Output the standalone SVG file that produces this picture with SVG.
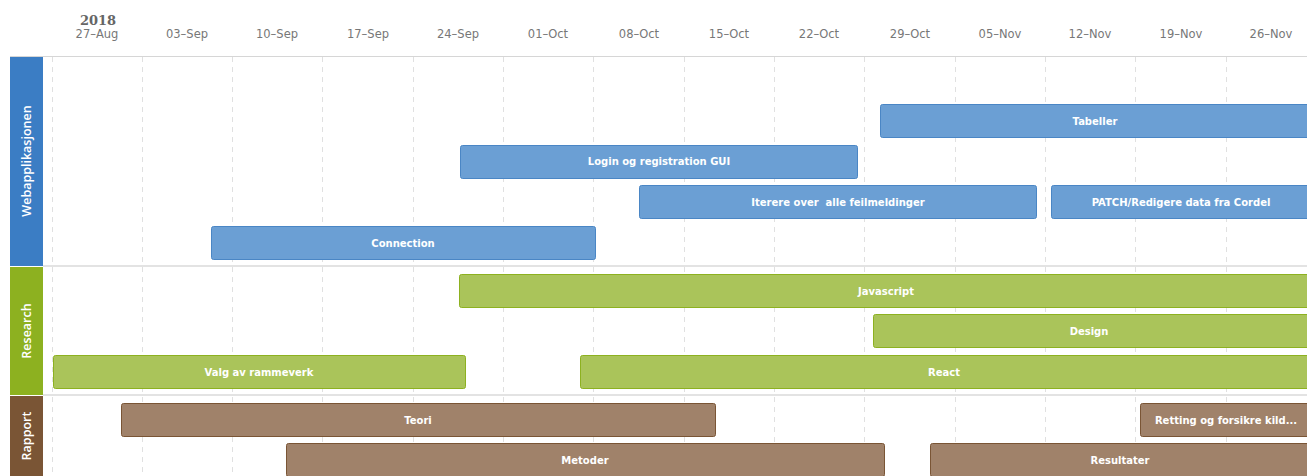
<svg xmlns="http://www.w3.org/2000/svg" width="1307" height="476" viewBox="0 0 1307 476">
<style>
.date{font-family:"DejaVu Sans",sans-serif;font-size:11.5px;fill:#777;text-anchor:middle}
.year{font-family:"DejaVu Serif",serif;font-weight:bold;font-size:13px;fill:#666;text-anchor:middle}
.grid{stroke:#e0e0e0;stroke-width:1;stroke-dasharray:5,5}
.sep{stroke:#e3e3e3;stroke-width:2}
.lane{font-family:"Open Sans",sans-serif;font-weight:600;font-size:12.5px;fill:#fff;text-anchor:middle}
.bar text{font-family:"DejaVu Sans",sans-serif;font-weight:bold;font-size:10px;fill:#fff;text-anchor:middle}
.b rect{fill:#6b9fd4;stroke:#4a86c5}
.g rect{fill:#aac45a;stroke:#8db120}
.r rect{fill:#a0826a;stroke:#7a5535}
</style>
<rect width="1307" height="476" fill="#fff"/>
<g id="header">
<text class="year" x="98" y="25">2018</text>
<text class="date" x="97" y="38">27–Aug</text>
<text class="date" x="187" y="38">03–Sep</text>
<text class="date" x="277" y="38">10–Sep</text>
<text class="date" x="368" y="38">17–Sep</text>
<text class="date" x="458" y="38">24–Sep</text>
<text class="date" x="548" y="38">01–Oct</text>
<text class="date" x="639" y="38">08–Oct</text>
<text class="date" x="729" y="38">15–Oct</text>
<text class="date" x="819" y="38">22–Oct</text>
<text class="date" x="910" y="38">29–Oct</text>
<text class="date" x="1000" y="38">05–Nov</text>
<text class="date" x="1090" y="38">12–Nov</text>
<text class="date" x="1181" y="38">19–Nov</text>
<text class="date" x="1271" y="38">26–Nov</text>
<line x1="10" y1="56.5" x2="1307" y2="56.5" stroke="#d6d6d6"/>
</g>
<g id="grid">
<line class="grid" x1="52.5" y1="57" x2="52.5" y2="476"/>
<line class="grid" x1="142.5" y1="57" x2="142.5" y2="476"/>
<line class="grid" x1="232.5" y1="57" x2="232.5" y2="476"/>
<line class="grid" x1="322.5" y1="57" x2="322.5" y2="476"/>
<line class="grid" x1="413.5" y1="57" x2="413.5" y2="476"/>
<line class="grid" x1="503.5" y1="57" x2="503.5" y2="476"/>
<line class="grid" x1="593.5" y1="57" x2="593.5" y2="476"/>
<line class="grid" x1="684.5" y1="57" x2="684.5" y2="476"/>
<line class="grid" x1="774.5" y1="57" x2="774.5" y2="476"/>
<line class="grid" x1="864.5" y1="57" x2="864.5" y2="476"/>
<line class="grid" x1="955.5" y1="57" x2="955.5" y2="476"/>
<line class="grid" x1="1045.5" y1="57" x2="1045.5" y2="476"/>
<line class="grid" x1="1135.5" y1="57" x2="1135.5" y2="476"/>
<line class="grid" x1="1226.5" y1="57" x2="1226.5" y2="476"/>
<line class="sep" x1="43" y1="266" x2="1307" y2="266"/>
<line class="sep" x1="43" y1="395" x2="1307" y2="395"/>
</g>
<g id="lane-web">
<rect x="10" y="57" width="33" height="209" fill="#3b7dc4"/>
<text class="lane" transform="translate(31,161) rotate(-90)">Webapplikasjonen</text>
</g>
<g id="lane-research">
<rect x="10" y="267" width="33" height="128" fill="#8db120"/>
<text class="lane" transform="translate(31,331) rotate(-90)">Research</text>
</g>
<g id="lane-rapport">
<rect x="10" y="396" width="33" height="80" fill="#7a5535"/>
<text class="lane" transform="translate(31,436) rotate(-90)">Rapport</text>
</g>
<g id="bar-tabeller" class="bar b"><rect x="880.5" y="104.5" width="440" height="33" rx="2"/><text x="1095" y="125">Tabeller</text></g>
<g id="bar-login" class="bar b"><rect x="460.5" y="145.5" width="397" height="33" rx="2"/><text x="659" y="165">Login og registration GUI</text></g>
<g id="bar-iterere" class="bar b"><rect x="639.5" y="185.5" width="397" height="33" rx="2"/><text x="838" y="206" xml:space="preserve">Iterere over  alle feilmeldinger</text></g>
<g id="bar-patch" class="bar b"><rect x="1051.5" y="185.5" width="270" height="33" rx="2"/><text x="1181" y="206">PATCH/Redigere data fra Cordel</text></g>
<g id="bar-connection" class="bar b"><rect x="211.5" y="226.5" width="384" height="33" rx="2"/><text x="403" y="247">Connection</text></g>
<g id="bar-javascript" class="bar g"><rect x="459.5" y="274.5" width="860" height="33" rx="2"/><text x="886" y="295">Javascript</text></g>
<g id="bar-design" class="bar g"><rect x="873.5" y="314.5" width="440" height="33" rx="2"/><text x="1089" y="335">Design</text></g>
<g id="bar-valg" class="bar g"><rect x="53.5" y="355.5" width="412" height="33" rx="2"/><text x="259" y="376">Valg av rammeverk</text></g>
<g id="bar-react" class="bar g"><rect x="580.5" y="355.5" width="740" height="33" rx="2"/><text x="944" y="376">React</text></g>
<g id="bar-teori" class="bar r"><rect x="121.5" y="403.5" width="594" height="33" rx="2"/><text x="418" y="424">Teori</text></g>
<g id="bar-retting" class="bar r"><rect x="1140.5" y="403.5" width="180" height="33" rx="2"/><text x="1226" y="424">Retting og forsikre kild...</text></g>
<g id="bar-metoder" class="bar r"><rect x="286.5" y="443.5" width="598" height="33" rx="2"/><text x="585" y="464">Metoder</text></g>
<g id="bar-resultater" class="bar r"><rect x="930.5" y="443.5" width="390" height="33" rx="2"/><text x="1120" y="464">Resultater</text></g>
</svg>
